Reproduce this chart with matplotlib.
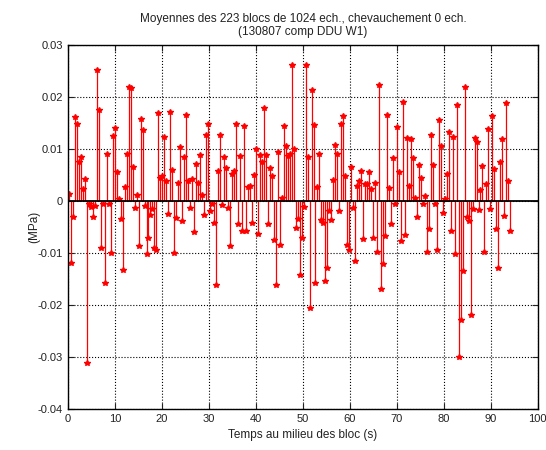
import numpy as np
import matplotlib
matplotlib.use("Agg")
import matplotlib.pyplot as plt

plt.rcParams['font.family'] = ['Liberation Sans', 'DejaVu Sans']

# block means (MPa), 223 blocks of 1024 samples
block_means = [
    0.0013, -0.0120, -0.0030, 0.0162, 0.0148, 0.0074, 0.0084, 0.0023, 0.0042, -0.0312,
    -0.0005, -0.0012, -0.0030, -0.0010, 0.0252, 0.0175, -0.0090, -0.0006, -0.0158, 0.0090,
    -0.0006, -0.0100, 0.0125, 0.0140, 0.0055, 0.0003, -0.0035, -0.0133,
    0.0026, 0.0090, 0.0220, 0.0217, 0.0066, -0.0013, 0.0012, -0.0087, 0.0157, 0.0137,
    -0.0010, -0.0102, -0.0072, -0.0028, -0.0016, -0.0090, -0.0095, 0.0170, 0.0045, 0.0048,
    0.0123, 0.0039, -0.0025, 0.0171, 0.0059, -0.0100, -0.0032, 0.0034, 0.0103, -0.0039,
    0.0084, 0.0166, 0.0039, -0.0014, 0.0042, -0.0059, 0.0071, 0.0034, 0.0088, 0.0012,
    -0.0027, 0.0127, 0.0148, -0.0019, -0.0005, -0.0042, -0.0161, 0.0057, 0.0126, -0.0008,
    0.0084, 0.0063, -0.0013, -0.0087, 0.0052, 0.0057,
    0.0148, -0.0044, 0.0087, -0.0057, 0.0145, -0.0057, 0.0027, 0.0029, -0.0042, 0.0050,
    0.0100, -0.0063, 0.0089, 0.0074, 0.0179, 0.0089, -0.0044, 0.0063, 0.0048, -0.0076,
    -0.0161, 0.0095, -0.0085, 0.0006, 0.0145, 0.0106, 0.0086, 0.0090, 0.0261, 0.0100,
    -0.0052, -0.0035, -0.0143, -0.0072, -0.0012, 0.0261, 0.0084, -0.0206, 0.0214, 0.0147,
    -0.0158, 0.0026, 0.0090, -0.0037, -0.0042, -0.0154, -0.0129, -0.0020, -0.0037, 0.0040,
    0.0108, 0.0090, -0.0020, 0.0148, 0.0163, 0.0048, -0.0084, -0.0094, 0.0065, -0.0013,
    -0.0116,
    0.0028, 0.0039, 0.0057, -0.0074, 0.0032, 0.0032, 0.0055, 0.0023, -0.0072, 0.0035,
    -0.0098, 0.0224, -0.0169, -0.0121, -0.0068, 0.0165, 0.0025, -0.0044, 0.0083, -0.0005,
    0.0143, 0.0055, -0.0077, 0.0190, -0.0066, 0.0121, 0.0028, 0.0119, 0.0083,
    0.0005, -0.0031, 0.0070, 0.0045, -0.0005, 0.0010, -0.0098, -0.0055, 0.0126, 0.0070,
    -0.0005, -0.0094, 0.0155, 0.0105, -0.0023, 0.0003, 0.0052, 0.0132, -0.0057, 0.0123,
    -0.0102, 0.0184, -0.0300, -0.0229, -0.0135, 0.0219, -0.0031, -0.0039, -0.0220,
    -0.0016, 0.0121, 0.0113, -0.0018, 0.0021, 0.0068, -0.0098, 0.0032, 0.0139, -0.0016,
    0.0163, 0.0061, -0.0055, -0.0129, 0.0074, 0.0119, -0.0029, 0.0188, 0.0039, -0.0058,
]

fs = 2420.0          # sampling rate (Hz)
block_len = 1024
t_mid = (np.arange(len(block_means)) + 0.5) * block_len / fs

x_ticks = [0, 10, 20, 30, 40, 50, 60, 70, 80, 90, 100]
y_ticks = [-0.04, -0.03, -0.02, -0.01, 0, 0.01, 0.02, 0.03]
y_tick_labels = ['-0.04', '-0.03', '-0.02', '-0.01', '0', '0.01', '0.02', '0.03']

fig = plt.figure(figsize=(5.46, 4.5), dpi=100)
ax = fig.add_axes([0.1245, 0.0918, 0.8605, 0.808])

markerline, stemlines, baseline = ax.stem(t_mid, block_means, linefmt='r-',
                                          markerfmt='r*', basefmt=' ')
stemlines.set_linewidth(0.9)
markerline.set_markersize(4)
ax.axhline(0, color='k', lw=1.3, zorder=3)

ax.set_xlim(0, 100)
ax.set_ylim(-0.04, 0.03)
ax.set_xticks(x_ticks)
ax.set_yticks(y_ticks)
ax.set_yticklabels(y_tick_labels)
ax.tick_params(direction='in', top=True, right=True, labelsize=8, length=4,
               colors='#222222')
ax.grid(True, linestyle=':', color='k', linewidth=0.8)
for s in ax.spines.values():
    s.set_linewidth(1.0)

ax.set_title('Moyennes des 223 blocs de 1024 ech., chevauchement 0 ech.\n(130807 comp DDU W1)',
             fontsize=8.5, pad=7, color='#222222')
ax.set_xlabel('Temps au milieu des bloc (s)', fontsize=8.5, color='#222222')
ax.set_ylabel('(MPa)', fontsize=8.5, color='#222222')
ax.yaxis.set_label_coords(-0.06, 0.5)

fig.savefig('out.png', dpi=100)
